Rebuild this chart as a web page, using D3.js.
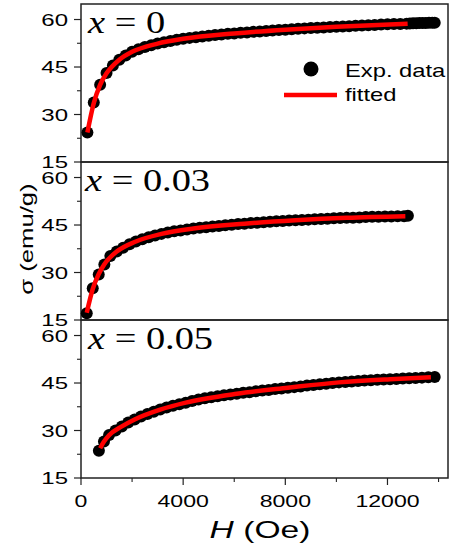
<!DOCTYPE html>
<html>
<head>
<meta charset="utf-8">
<script src="https://cdn.jsdelivr.net/npm/d3@7"></script>
<style>
  body { margin: 0; background: #fff; }
  text { font-family: "Liberation Sans", Arial, sans-serif; fill: #000; }
</style>
</head>
<body>
<div id="chart"></div>
<script>
// panel labels
var labels = ["0", "0.03", "0.05"];

// x = 0 measured data
var h0 = [250,500,750,1000,1250,1500,1750,2000,2250,2500,2750,3000,3250,3500,3750,4000,4250,4500,4750,5000,5250,5500,5750,6000,6250,6500,6750,7000,7250,7500,7750,8000,8250,8500,8750,9000,9250,9500,9750,10000,10250,10500,10750,11000,11250,11500,11750,12000,12250,12500,12750,12875,13000,13125,13250,13375,13500,13625,13750,13850];
var s0 = [24.3,33.8,39.4,43.1,45.5,47.3,48.6,49.8,50.6,51.3,51.9,52.4,52.8,53.2,53.6,53.9,54.2,54.4,54.6,54.9,55.1,55.3,55.5,55.6,55.8,55.9,56.1,56.2,56.4,56.5,56.7,56.8,56.9,57.1,57.2,57.3,57.4,57.5,57.6,57.7,57.8,57.9,58.0,58.1,58.2,58.3,58.4,58.5,58.6,58.6,58.7,58.75,58.8,58.85,58.9,58.9,58.9,58.95,59.0,59.0];

// x = 0.03 measured data
var h1 = [225,460,695,915,1150,1400,1650,1900,2150,2400,2650,2900,3150,3400,3650,3900,4150,4400,4650,4900,5150,5400,5650,5900,6150,6400,6650,6900,7150,7400,7650,7900,8150,8400,8650,8900,9150,9400,9650,9900,10150,10400,10650,10900,11150,11400,11650,11900,12150,12400,12650,12800];
var s1 = [17.1,25.0,29.4,32.5,35.2,36.6,37.8,38.9,39.8,40.5,41.1,41.7,42.2,42.6,43.0,43.3,43.6,43.9,44.1,44.3,44.5,44.7,44.9,45.1,45.3,45.4,45.6,45.7,45.9,46.0,46.2,46.3,46.4,46.5,46.6,46.7,46.8,46.9,47.0,47.1,47.2,47.3,47.3,47.4,47.5,47.6,47.6,47.7,47.7,47.8,47.8,47.9];

// x = 0.05 measured data
var h2 = [700,900,1100,1350,1600,1850,2100,2350,2600,2850,3100,3350,3600,3850,4100,4350,4600,4850,5100,5350,5600,5850,6100,6350,6600,6850,7100,7350,7600,7850,8100,8350,8600,8850,9100,9350,9600,9850,10100,10350,10600,10850,11100,11350,11600,11850,12100,12350,12600,12850,13100,13350,13600,13850];
var s2 = [23.6,26.5,28.6,30.0,31.3,32.5,33.5,34.4,35.2,35.9,36.6,37.3,37.8,38.3,38.8,39.3,39.8,40.2,40.5,40.8,41.1,41.4,41.6,41.9,42.1,42.4,42.6,42.8,43.1,43.3,43.5,43.7,43.9,44.2,44.4,44.6,44.8,45.0,45.2,45.3,45.5,45.6,45.8,45.9,46.0,46.1,46.2,46.3,46.4,46.5,46.6,46.7,46.8,46.9];

// fitted curves
var fh0 = [250,500,750,1000,1500,2000,3000,4000,6000,8000,10000,12790];
var fs0 = [24.3,33.6,39.4,43.0,47.3,49.8,52.4,53.9,55.6,56.8,57.7,58.7];
var fh1 = [225,460,695,915,1400,2150,3150,4400,6400,8400,10400,12700];
var fs1 = [17.3,24.8,29.5,32.6,36.6,39.8,42.2,43.9,45.4,46.5,47.3,47.8];
var fh2 = [750,900,1100,1600,2100,3100,4100,6100,8100,10100,12100,13700];
var fs2 = [24.4,26.5,28.5,31.3,33.5,36.6,38.8,41.6,43.5,45.2,46.2,46.8];

var yTicks = [15, 30, 45, 60];
var yMinor = [22.5, 37.5, 52.5];
var xTicks = [0, 4000, 8000, 12000];
var xMinor = [2000, 6000, 10000, 14000];

var width = 450, height = 552;
var left = 81, right = 448;
var tops = [4, 162, 320], ph = 158;

var expH = [h0, h1, h2], expS = [s0, s1, s2];
var fitH = [fh0, fh1, fh2], fitS = [fs0, fs1, fs2];

var svg = d3.select("#chart").append("svg")
    .attr("width", width).attr("height", height);

var x = d3.scaleLinear().domain([0, 14370]).range([left, right]);

tops.forEach(function(top, i) {
    var y = d3.scaleLinear().domain([15, 64.9]).range([top + ph, top]);
    var g = svg.append("g");

    // frame
    g.append("rect")
        .attr("x", left).attr("y", top)
        .attr("width", right - left).attr("height", ph)
        .attr("fill", "none").attr("stroke", "#222").attr("stroke-width", 1.5);

    // y axis ticks
    yTicks.forEach(function(t) {
        g.append("line").attr("x1", left - 7).attr("x2", left)
            .attr("y1", y(t)).attr("y2", y(t))
            .attr("stroke", "#222").attr("stroke-width", 1.2);
        g.append("text")
            .attr("transform", "translate(68," + (y(t) + 6) + ") scale(1.5,1)")
            .attr("text-anchor", "end")
            .style("font-size", "16px")
            .text(t);
    });
    yMinor.forEach(function(t) {
        g.append("line").attr("x1", left - 4).attr("x2", left)
            .attr("y1", y(t)).attr("y2", y(t))
            .attr("stroke", "#222").attr("stroke-width", 1.1);
    });

    // data points
    var pts = expH[i].map(function(h, k) { return [h, expS[i][k]]; });
    g.selectAll("circle.d").data(pts).join("circle")
        .attr("cx", function(d) { return x(d[0]); })
        .attr("cy", function(d) { return y(d[1]); })
        .attr("r", 6)
        .attr("fill", "#000");

    // fitted line
    var fit = fitH[i].map(function(h, k) { return [h, fitS[i][k]]; });
    g.append("path").datum(fit)
        .attr("d", d3.line()
            .x(function(d) { return x(d[0]); })
            .y(function(d) { return y(d[1]); })
            .curve(d3.curveMonotoneX))
        .attr("fill", "none").attr("stroke", "#ff0000").attr("stroke-width", 4.5);

    // panel label
    var lab = g.append("text")
        .attr("transform", "translate(" + (i == 1 ? 85 : 88) + "," + (top + 29) + ") scale(1.2,1)")
        .style("font-family", "'Liberation Serif', 'Times New Roman', serif")
        .style("font-size", "32px");
    lab.append("tspan").style("font-style", "italic").text("x");
    lab.append("tspan").text(" = " + labels[i]);
});

// bottom x axis
var bottom = tops[2] + ph;
xTicks.forEach(function(t) {
    svg.append("line").attr("x1", x(t)).attr("x2", x(t))
        .attr("y1", bottom).attr("y2", bottom + 7)
        .attr("stroke", "#222").attr("stroke-width", 1.2);
    svg.append("text")
        .attr("transform", "translate(" + x(t) + "," + (bottom + 29) + ") scale(1.4,1)")
        .attr("text-anchor", "middle")
        .style("font-size", "16.5px")
        .text(t);
});
xMinor.forEach(function(t) {
    svg.append("line").attr("x1", x(t)).attr("x2", x(t))
        .attr("y1", bottom).attr("y2", bottom + 4)
        .attr("stroke", "#222").attr("stroke-width", 1.1);
});

// axis titles
var xt = svg.append("text")
    .attr("transform", "translate(260,538) scale(1.4,1)")
    .attr("text-anchor", "middle")
    .style("font-size", "24px");
xt.append("tspan").style("font-style", "italic").text("H");
xt.append("tspan").text(" (Oe)");

svg.append("text")
    .attr("transform", "translate(33,239) rotate(-90) scale(1.35,1)")
    .attr("text-anchor", "middle")
    .style("font-size", "19px")
    .text("σ (emu/g)");

// legend
svg.append("circle").attr("cx", 311).attr("cy", 69).attr("r", 7.5).attr("fill", "#000");
svg.append("text")
    .attr("transform", "translate(345,77) scale(1.25,1)")
    .style("font-size", "19px").text("Exp. data");
svg.append("line").attr("x1", 284).attr("x2", 337).attr("y1", 95).attr("y2", 95)
    .attr("stroke", "#ff0000").attr("stroke-width", 4.5);
svg.append("text")
    .attr("transform", "translate(345,101) scale(1.25,1)")
    .style("font-size", "19px").text("fitted");
</script>
</body>
</html>
